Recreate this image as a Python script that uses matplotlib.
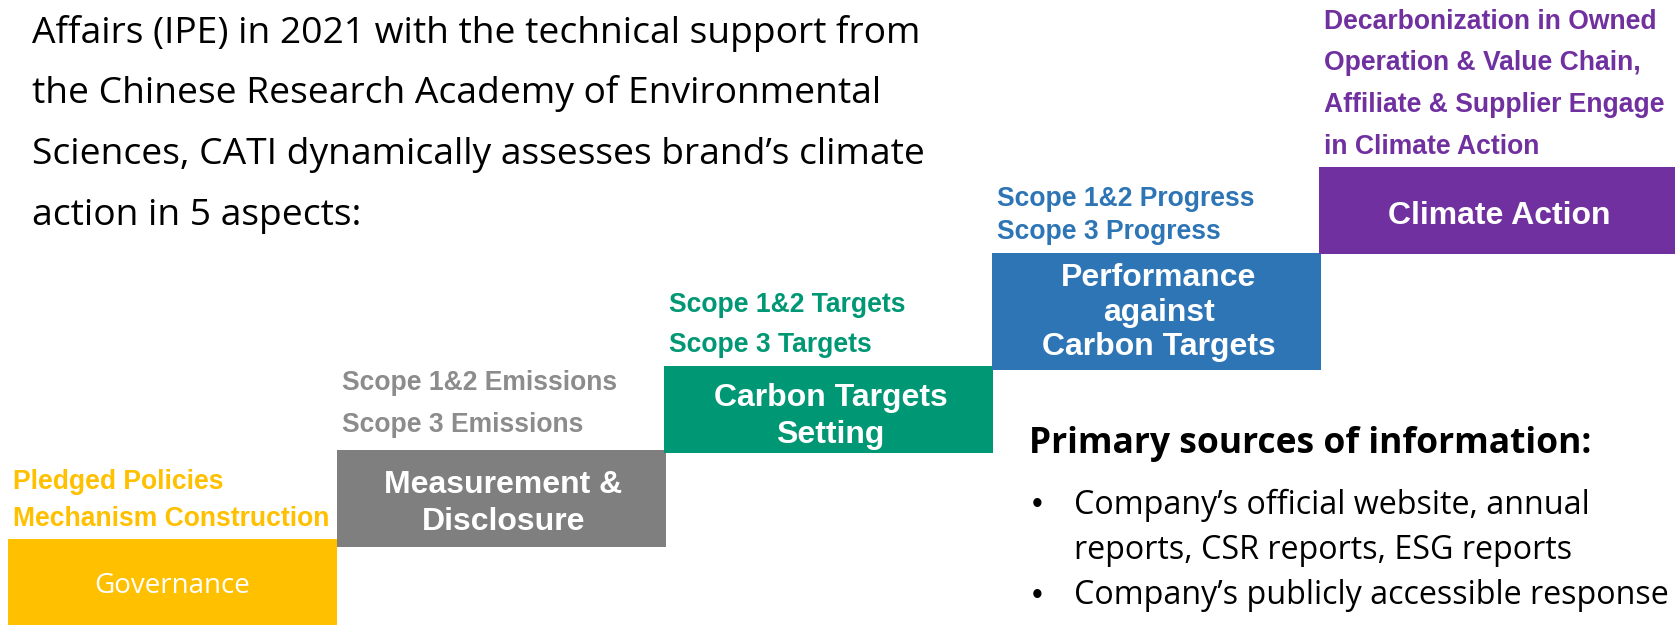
import matplotlib.pyplot as plt
from matplotlib.patches import Rectangle

# --- data ---
intro_lines = [
    "Affairs (IPE) in 2021 with the technical support from",
    "the Chinese Research Academy of Environmental",
    "Sciences, CATI dynamically assesses brand\u2019s climate",
    "action in 5 aspects:",
]
stages = [
    "Governance",
    "Measurement &\nDisclosure",
    "Carbon Targets\nSetting",
    "Performance\nagainst\nCarbon Targets",
    "Climate Action",
]
stage_notes = [
    ["Pledged Policies", "Mechanism Construction"],
    ["Scope 1&2 Emissions", "Scope 3 Emissions"],
    ["Scope 1&2 Targets", "Scope 3 Targets"],
    ["Scope 1&2 Progress", "Scope 3 Progress"],
    ["Decarbonization in Owned", "Operation & Value Chain,",
     "Affiliate & Supplier Engage", "in Climate Action"],
]
sources_title = "Primary sources of information:"
sources = [
    ["Company\u2019s official website, annual", "reports, CSR reports, ESG reports"],
    ["Company\u2019s publicly accessible response"],
]

# --- layout / style (pixel space, y down) ---
box_colors = ["#FFC000", "#7F7F7F", "#009774", "#2E75B6", "#7030A0"]
note_colors = ["#FFC000", "#8C8C8C", "#009774", "#2E75B6", "#7030A0"]
box_left = [8, 337, 664, 992, 1319]
box_right = [337, 666, 993, 1321, 1675]
box_top = [539, 450, 366, 253, 167]
box_bottom = [625, 547, 453, 370, 254]
label_spacing = [1.0, 1.27, 1.27, 1.2, 1.0]
label_shift = [4, 5, 7, 1, 5]
note_top = [482, 383, 305, 199, 22]
note_gap = [37, 42, 40, 33, 41.5]

fig = plt.figure(figsize=(16.75, 6.25), dpi=100)
ax = fig.add_axes([0, 0, 1, 1])
ax.set_xlim(0, 1675)
ax.set_ylim(625, 0)
ax.axis("off")

body_font = "Open Sans"
bold_font = "Liberation Sans"

for i, line in enumerate(intro_lines):
    ax.text(32, 33 + i * 61, line, fontsize=26.8, family=body_font,
            color="black", va="center", ha="left")

for i, label in enumerate(stages):
    x0, x1 = box_left[i], box_right[i]
    y0, y1 = box_top[i], box_bottom[i]
    ax.add_patch(Rectangle((x0, y0), x1 - x0, y1 - y0,
                           facecolor=box_colors[i], edgecolor="none"))
    cy = (y0 + y1) / 2 + label_shift[i]
    if i == 0:
        ax.text((x0 + x1) / 2, cy, label, fontsize=20,
                family=body_font, color="white", ha="center", va="center")
    else:
        ax.text((x0 + x1) / 2 + 2, cy, label, fontsize=23,
                family=bold_font, fontweight="bold", color="white",
                ha="center", va="center", linespacing=label_spacing[i])
    for j, note in enumerate(stage_notes[i]):
        ax.text(x0 + 5, note_top[i] + j * note_gap[i], note, fontsize=19.1,
                family=bold_font, fontweight="bold", color=note_colors[i],
                ha="left", va="center")

ax.text(1029, 444, sources_title, fontsize=25.5, family=body_font,
        fontweight="bold", color="black", ha="left", va="center")
y = 505
for item in sources:
    ax.text(1032, y, "\u2022", fontsize=22, family=bold_font, color="black",
            ha="left", va="center")
    for line in item:
        ax.text(1074, y, line, fontsize=23.2, family=body_font, color="black",
                ha="left", va="center")
        y += 45.5

fig.savefig("out.png", dpi=100)
